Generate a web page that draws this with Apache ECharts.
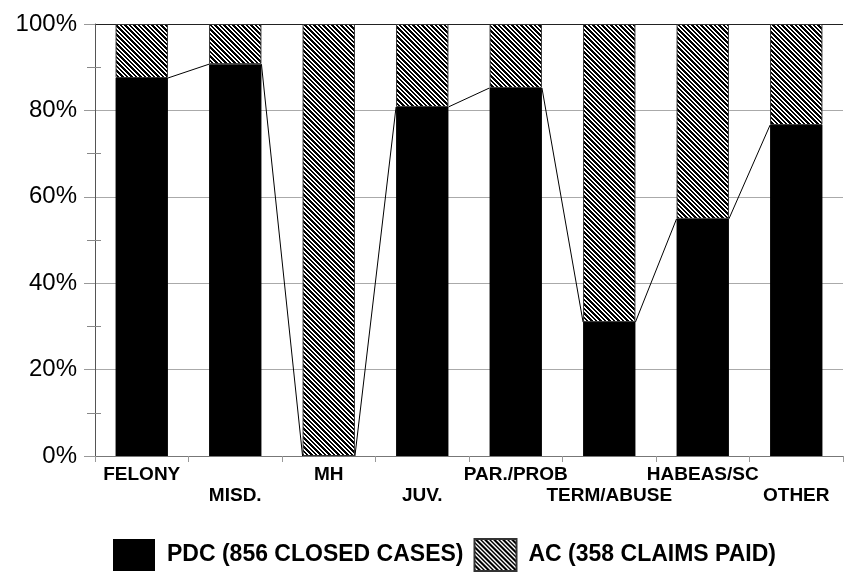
<!DOCTYPE html>
<html>
<head>
<meta charset="utf-8">
<style>
  html, body { margin: 0; padding: 0; background: #fff; }
  #container { width: 845px; height: 572px; }
</style>
<script src="https://cdn.jsdelivr.net/npm/echarts@6/dist/echarts.min.js"></script>
</head>
<body>
<div id="container"></div>
<script>
// data
var categories = ['FELONY', 'MISD.', 'MH', 'JUV.', 'PAR./PROB', 'TERM/ABUSE', 'HABEAS/SC', 'OTHER'];
var pdcShare = [87.5, 90.7, 0, 80.8, 85.2, 31.0, 54.9, 76.6];
var acShare = [12.5, 9.3, 100, 19.2, 14.8, 69.0, 45.1, 23.4];
var seriesNames = ['PDC (856 CLOSED CASES)', 'AC (358 CLAIMS PAID)'];

// diagonal hatch tile (stripes roughly every 4.5px)
function makeHatch() {
  var n = 9;
  var c = document.createElement('canvas');
  c.width = n;
  c.height = n;
  var ctx = c.getContext('2d');
  ctx.fillStyle = '#fff';
  ctx.fillRect(0, 0, n, n);
  ctx.fillStyle = '#000';
  for (var y = 0; y < n; y++) {
    for (var x = 0; x < n; x++) {
      var m = (((x - y) % n) + n) % n;
      if (m === 0 || m === 1 || m === 2 || m === 5 || m === 6) ctx.fillRect(x, y, 1, 1);
    }
  }
  return c;
}

// line segments joining the tops of the PDC bars
var links = [];
for (var i = 0; i < pdcShare.length - 1; i++) {
  links.push([i, pdcShare[i], pdcShare[i + 1]]);
}

var font = "'Liberation Sans', Arial, sans-serif";

var dom = document.getElementById('container');
var myChart = echarts.init(dom, null, { renderer: 'canvas' });

var option = {
  animation: false,
  grid: { left: 95, right: 2, top: 24, bottom: 116, containLabel: false },
  legend: {
    data: seriesNames,
    left: 113,
    top: 538,
    padding: 0,
    icon: 'rect',
    itemWidth: 42,
    itemHeight: 32,
    itemGap: 10,
    textStyle: {
      fontFamily: font,
      fontSize: 23,
      fontWeight: 'bold',
      color: '#000',
      padding: [0, 0, 0, 7]
    }
  },
  xAxis: {
    type: 'category',
    data: categories,
    boundaryGap: true,
    axisLine: { lineStyle: { color: '#777', width: 1 } },
    axisTick: { show: true, length: 6, lineStyle: { color: '#999' } },
    axisLabel: {
      interval: 0,
      margin: 8,
      fontFamily: font,
      fontSize: 19,
      fontWeight: 'bold',
      color: '#000',
      lineHeight: 21,
      formatter: function (v, idx) { return idx % 2 ? '\n' + v : v; }
    }
  },
  yAxis: [
    {
      type: 'value',
      min: 0,
      max: 100,
      interval: 20,
      axisLine: { show: true, lineStyle: { color: '#555' } },
      axisTick: { show: true, length: 11, lineStyle: { color: '#999' } },
      minorTick: { show: true, splitNumber: 2, length: 8, lineStyle: { color: '#888' } },
      splitLine: {
        show: true,
        lineStyle: { color: ['#aaa', '#aaa', '#aaa', '#aaa', '#aaa', '#222'], width: 1 }
      },
      axisLabel: {
        margin: 18,
        fontFamily: font,
        fontSize: 24,
        color: '#000',
        formatter: '{value}%'
      }
    },
    {
      type: 'value',
      position: 'left',
      min: 0,
      max: 100,
      interval: 20,
      axisLine: { show: false },
      axisLabel: { show: false },
      splitLine: { show: false },
      axisTick: { show: true, inside: true, length: 0 },
      minorTick: { show: true, splitNumber: 2, length: 6, lineStyle: { color: '#888' } }
    }
  ],
  series: [
    {
      name: seriesNames[0],
      type: 'bar',
      stack: 'total',
      barWidth: '56%',
      itemStyle: { color: '#000' },
      data: pdcShare
    },
    {
      name: seriesNames[1],
      type: 'bar',
      stack: 'total',
      barWidth: '56%',
      itemStyle: {
        color: { image: makeHatch(), repeat: 'repeat' },
        borderColor: '#333',
        borderWidth: 1
      },
      data: acShare
    },
    {
      type: 'custom',
      silent: true,
      z: 5,
      encode: { x: 0, y: 1 },
      renderItem: function (params, api) {
        var idx = api.value(0);
        var p1 = api.coord([idx, api.value(1)]);
        var p2 = api.coord([idx + 1, api.value(2)]);
        var half = api.size([1, 0])[0] * 0.28;
        return {
          type: 'line',
          shape: { x1: p1[0] + half, y1: p1[1], x2: p2[0] - half, y2: p2[1] },
          style: { stroke: '#000', lineWidth: 1 }
        };
      },
      data: links
    }
  ]
};

myChart.setOption(option);
window.addEventListener('resize', myChart.resize);
</script>
</body>
</html>
